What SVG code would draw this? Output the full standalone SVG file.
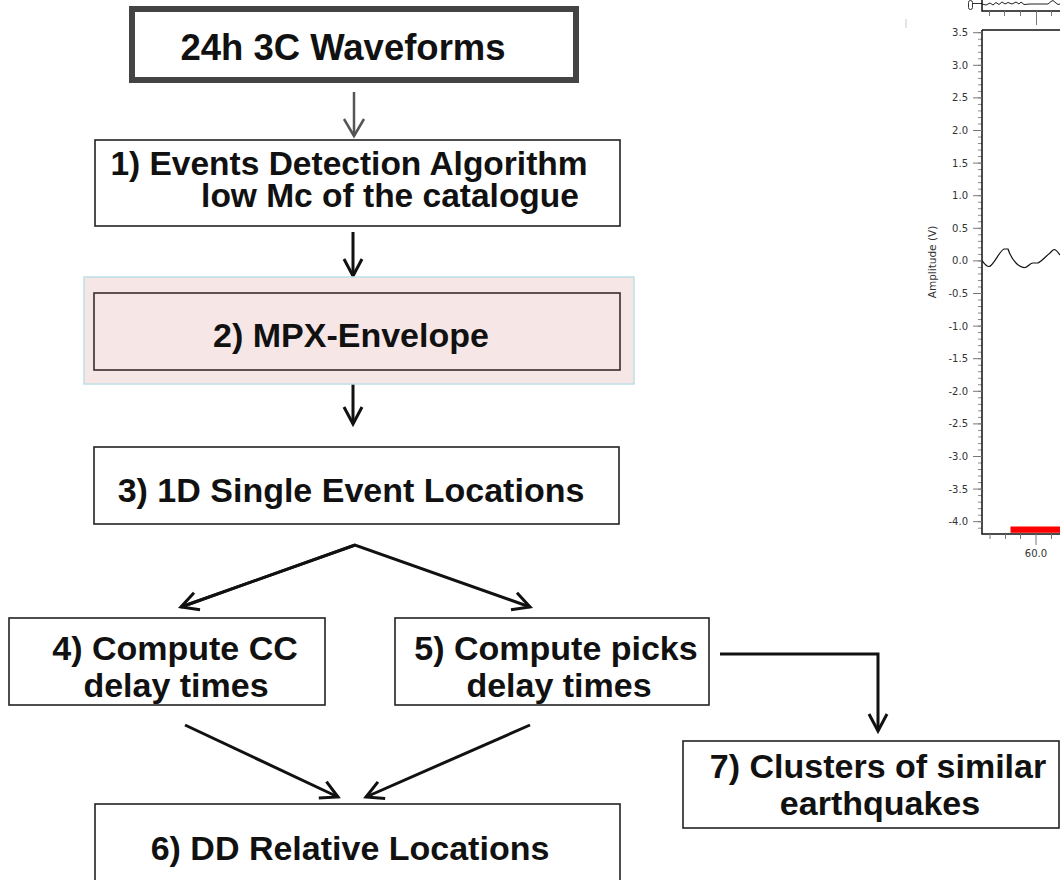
<svg xmlns="http://www.w3.org/2000/svg" width="1060" height="880" viewBox="0 0 1060 880">
<style>
.t{font-family:"Liberation Sans",Arial,Helvetica,sans-serif;font-weight:bold;font-size:34px;fill:#111;text-anchor:middle}
.box{fill:#fff;stroke:#222;stroke-width:1.6}
.conn{fill:none;stroke:#111;stroke-width:3}
.ax{font-family:"DejaVu Sans",Verdana,sans-serif;font-size:10px;fill:#333}
.axl{fill:none;stroke:#111;stroke-width:1.5}
.tick{fill:none;stroke:#777;stroke-width:1}
</style>
<defs>
<marker id="ah" viewBox="0 0 24 24" refX="21" refY="12" markerWidth="24" markerHeight="24" markerUnits="userSpaceOnUse" orient="auto">
<path d="M4,3 L21,12 L4,21" fill="none" stroke="#111" stroke-width="3"/>
</marker>
<marker id="ahg" viewBox="0 0 24 24" refX="21" refY="12" markerWidth="24" markerHeight="24" markerUnits="userSpaceOnUse" orient="auto">
<path d="M4,2 L21,12 L4,22" fill="none" stroke="#555" stroke-width="2.5"/>
</marker>
<pattern id="minor" patternUnits="userSpaceOnUse" x="978" y="32.2" width="4" height="6.52">
<rect x="0" y="0" width="4" height="1" fill="#888"/>
</pattern>
</defs>

<rect width="1060" height="880" fill="#fff"/>

<g id="connectors">
<line x1="354" y1="92" x2="354" y2="136" stroke="#555" stroke-width="2.5" marker-end="url(#ahg)"/>
<line class="conn" x1="353" y1="232" x2="353" y2="276" marker-end="url(#ah)"/>
<line class="conn" x1="353" y1="380" x2="353" y2="424" marker-end="url(#ah)"/>
<polyline class="conn" points="181,607 355,545 530,607" marker-end="url(#ah)"/>
<line class="conn" x1="355" y1="545" x2="181" y2="607" marker-end="url(#ah)"/>
<line class="conn" x1="185" y1="725" x2="338" y2="797" marker-end="url(#ah)"/>
<line class="conn" x1="530" y1="725" x2="366" y2="797" marker-end="url(#ah)"/>
<polyline class="conn" points="720,654 878,654 878,731" marker-end="url(#ah)"/>
</g>

<g id="n0">
<rect x="132" y="9" width="444" height="71" fill="#fff" stroke="#444" stroke-width="6"/>
<text class="t" x="343" y="60" style="font-size:36.5px">24h 3C Waveforms</text>
</g>

<g id="n1">
<rect class="box" x="95" y="140" width="525" height="86"/>
<text class="t" x="349" y="175" style="font-size:33.5px">1) Events Detection Algorithm</text>
<text class="t" x="390" y="207" style="font-size:33.5px">low Mc of the catalogue</text>
</g>

<g id="n2">
<rect x="84" y="277" width="550" height="107" fill="#f6e6e5" stroke="#bcdfe5" stroke-width="1.5"/>
<rect x="94" y="293" width="526" height="77" fill="#f6e6e5" stroke="#3a2c2c" stroke-width="1.6"/>
<text class="t" x="351" y="347">2) MPX-Envelope</text>
</g>

<g id="n3">
<rect class="box" x="94" y="447" width="525" height="77"/>
<text class="t" x="351" y="502">3) 1D Single Event Locations</text>
</g>

<g id="n4">
<rect class="box" x="9" y="618" width="316" height="87"/>
<text class="t" x="175" y="660">4) Compute CC</text>
<text class="t" x="176" y="697">delay times</text>
</g>

<g id="n5">
<rect class="box" x="395" y="618" width="314" height="87"/>
<text class="t" x="556" y="660">5) Compute picks</text>
<text class="t" x="559" y="697">delay times</text>
</g>

<g id="n6">
<rect class="box" x="95" y="804" width="525" height="90"/>
<text class="t" x="350" y="860">6) DD Relative Locations</text>
</g>

<g id="n7">
<rect class="box" x="683" y="741" width="376" height="87"/>
<text class="t" x="878" y="778">7) Clusters of similar</text>
<text class="t" x="880" y="815">earthquakes</text>
</g>

<g id="plot">
<line x1="906" y1="19" x2="906" y2="28" stroke="#e4e4e4" stroke-width="2"/>
<rect x="968.5" y="0.5" width="4" height="9" rx="2" fill="none" stroke="#333" stroke-width="1"/>
<line x1="972.5" y1="3.5" x2="982" y2="3.5" stroke="#333" stroke-width="1"/>
<path class="axl" d="M982,0 V11 H1060"/>
<path d="M982,4 L986,5 L990,3 L993,5 L996,2.5 L999,4.5 L1002,2 L1005,4 L1008,2.5 L1012,4 L1016,2 L1019,4 L1021,2 L1024,4.5 L1030,4 L1040,4 L1048,4 L1051,1.5 L1053,0.5 L1056,3 L1058,4.5 L1060,4" fill="none" stroke="#222" stroke-width="1"/>
<path class="tick" d="M989.5,11 v5 M1004.5,11 v5 M1020.5,11 v5 M1051.5,11 v5 M1036.5,11 v14"/>
<rect x="978" y="32.2" width="4" height="497" fill="url(#minor)"/>
<path class="axl" d="M982,30 H1060 M982,30 V534 H1060"/>
<path class="tick" d="M973,32.7 h9 M973,65.3 h9 M973,97.9 h9 M973,130.5 h9 M973,163.1 h9 M973,195.7 h9 M973,228.3 h9 M973,260.9 h9 M973,293.5 h9 M973,326.1 h9 M973,358.7 h9 M973,391.3 h9 M973,423.9 h9 M973,456.5 h9 M973,489.1 h9 M973,521.7 h9"/>
<g class="ax" text-anchor="end">
<text x="968" y="36.2">3.5</text>
<text x="968" y="68.8">3.0</text>
<text x="968" y="101.4">2.5</text>
<text x="968" y="134">2.0</text>
<text x="968" y="166.6">1.5</text>
<text x="968" y="199.2">1.0</text>
<text x="968" y="231.8">0.5</text>
<text x="968" y="264.4">0.0</text>
<text x="968" y="297">-0.5</text>
<text x="968" y="329.6">-1.0</text>
<text x="968" y="362.2">-1.5</text>
<text x="968" y="394.8">-2.0</text>
<text x="968" y="427.4">-2.5</text>
<text x="968" y="460">-3.0</text>
<text x="968" y="492.6">-3.5</text>
<text x="968" y="525.2">-4.0</text>
</g>
<text class="ax" x="936" y="262" text-anchor="middle" transform="rotate(-90 936 262)" style="font-size:10.5px">Amplitude (V)</text>
<path d="M982,260.5 C984,263 986,266.5 989,266.5 C993,266.5 1000,250 1004,249 L1008,249 C1010,255 1013,260 1016,263 C1019,266 1022,268 1025,267.5 C1028,267 1030,263 1033,263 L1038,263 C1042,261 1046,256 1050,253 C1052,251 1053,249.5 1054.5,249.5 C1056.5,250 1058.5,253 1060,255" fill="none" stroke="#111" stroke-width="1.2"/>
<rect x="1010.5" y="526.5" width="49.5" height="6.3" fill="#f00"/>
<path class="tick" d="M990,534 v5 M1005.5,534 v5 M1020.5,534 v5 M1051.5,534 v5 M1036,534 v11"/>
<text class="ax" x="1036" y="557" text-anchor="middle">60.0</text>
</g>
</svg>
